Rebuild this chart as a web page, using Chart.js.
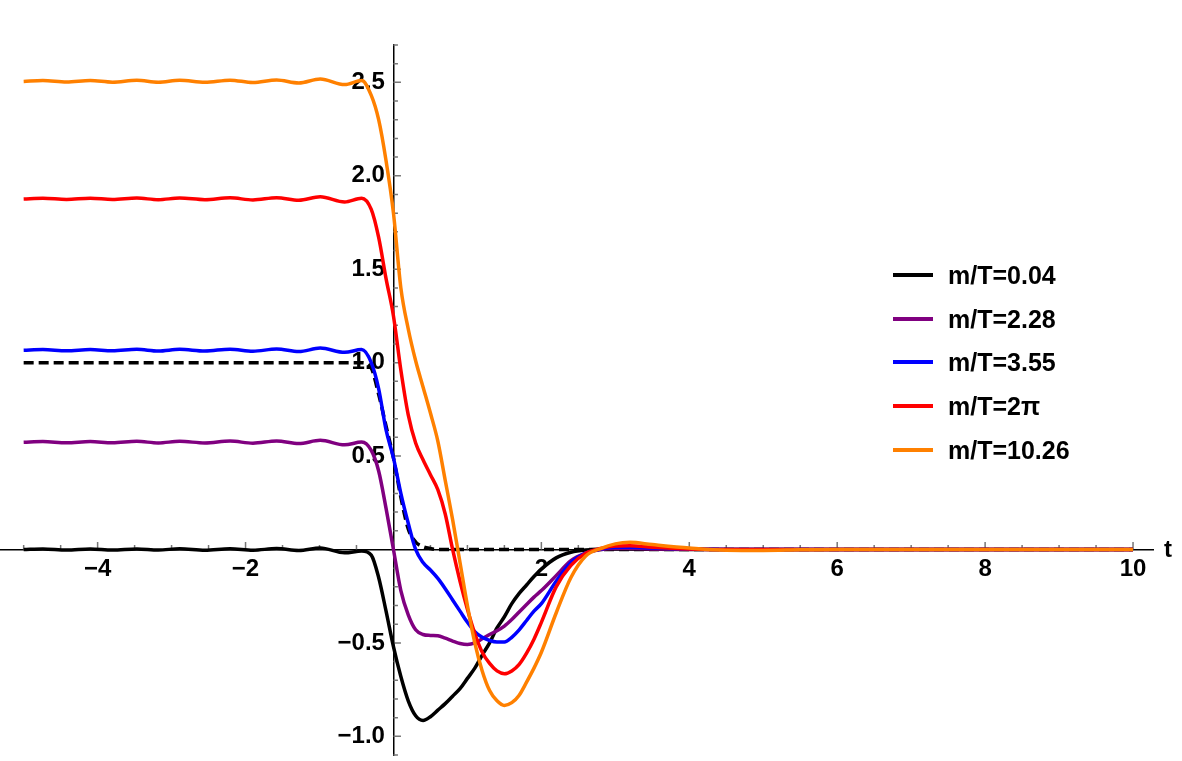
<!DOCTYPE html>
<html>
<head>
<meta charset="utf-8">
<script src="https://cdn.jsdelivr.net/npm/chart.js@4.4.1/dist/chart.umd.min.js"></script>
<style>
  body { margin: 0; background: #fff; }
  #wrap { position: relative; width: 1182px; height: 761px; overflow: hidden; }
  #plot { position: absolute; left: 0; top: 0; }
  .lab { position: absolute; font: bold 25px "Liberation Sans", Arial, sans-serif; color: #000; white-space: nowrap; }
  .row { position: absolute; left: 893px; height: 0; }
  .row .swatch { position: absolute; left: 0; top: -2px; width: 40px; height: 4px; }
  .row .txt { position: absolute; left: 55px; top: -14px; line-height: 28px; }
</style>
</head>
<body>
<div id="wrap">
  <canvas id="plot" width="1182" height="761"></canvas>
  <div class="lab" id="tLabel" style="left:1164px; top:535px; font-size:24px;">t</div>
  <div id="legend"></div>
</div>
<script>
// time samples (shared by all curves)
const T = [-5.0, -4.74, -4.42, -4.1, -3.8, -3.47, -3.18, -2.89, -2.55, -2.21, -1.9, -1.58, -1.28, -0.99, -0.66, -0.43,
  -0.3, -0.2, -0.1, 0, 0.1, 0.2, 0.3, 0.4, 0.5, 0.6, 0.7, 0.8, 0.9, 1.0, 1.1, 1.2, 1.3, 1.4, 1.5, 1.6, 1.7, 1.8, 1.9, 2.0,
  2.2, 2.4, 2.6, 2.8, 3.0, 3.2, 3.5, 4.0, 4.5, 5.0, 5.5, 6, 7, 8, 9, 10];

const labels = ["m/T=0.04", "m/T=2.28", "m/T=3.55", "m/T=2\u03C0", "m/T=10.26"];
const colors = ["#000000", "#800080", "#0000ff", "#ff0000", "#ff8000"];

const yBlack = [0.0, 0.003, -0.003, 0.003, -0.003, 0.003, -0.003, 0.004, -0.004, 0.004, -0.004, 0.005, -0.005, 0.008, -0.018, -0.008,
  -0.03, -0.15, -0.33, -0.52, -0.68, -0.81, -0.89, -0.915, -0.895, -0.86, -0.825, -0.785, -0.745, -0.69, -0.635, -0.565, -0.5, -0.42, -0.36, -0.29, -0.235, -0.19, -0.145, -0.105,
  -0.045, -0.015, -0.003, 0.0, 0.002, 0.002, 0.001, 0, 0, 0, 0, 0, 0, 0, 0, 0];
const yPurple = [0.574, 0.578, 0.571, 0.578, 0.571, 0.579, 0.570, 0.579, 0.570, 0.580, 0.569, 0.581, 0.567, 0.584, 0.560, 0.575,
  0.53, 0.42, 0.22, 0.0, -0.22, -0.35, -0.43, -0.455, -0.46, -0.462, -0.475, -0.49, -0.503, -0.508, -0.50, -0.478, -0.455, -0.435, -0.41, -0.375, -0.335, -0.295, -0.255, -0.22,
  -0.14, -0.06, -0.02, 0.0, 0.005, 0.005, 0.003, 0.001, 0, 0, 0, 0, 0, 0, 0, 0];
const yBlue = [1.066, 1.070, 1.063, 1.070, 1.063, 1.071, 1.062, 1.071, 1.062, 1.072, 1.061, 1.073, 1.059, 1.078, 1.055, 1.070,
  1.00, 0.86, 0.64, 0.49, 0.30, 0.14, 0.00, -0.07, -0.11, -0.155, -0.21, -0.27, -0.33, -0.39, -0.44, -0.47, -0.487, -0.495, -0.495, -0.47, -0.43, -0.38, -0.33, -0.29,
  -0.17, -0.07, -0.02, 0.003, 0.012, 0.012, 0.008, 0.002, 0, 0, 0, 0, 0, 0, 0, 0];
const yRed = [1.876, 1.880, 1.873, 1.880, 1.873, 1.881, 1.872, 1.881, 1.872, 1.882, 1.871, 1.883, 1.869, 1.888, 1.860, 1.880,
  1.82, 1.67, 1.45, 1.25, 0.96, 0.72, 0.57, 0.48, 0.40, 0.32, 0.19, 0.0, -0.17, -0.32, -0.45, -0.55, -0.61, -0.65, -0.665, -0.65, -0.615, -0.555, -0.48, -0.39,
  -0.20, -0.085, -0.02, 0.005, 0.018, 0.02, 0.012, 0.003, 0, 0, 0, 0, 0, 0, 0, 0];
const yOrange = [2.505, 2.510, 2.502, 2.510, 2.501, 2.511, 2.501, 2.511, 2.500, 2.512, 2.499, 2.513, 2.497, 2.518, 2.488, 2.510,
  2.43, 2.30, 2.08, 1.80, 1.40, 1.18, 1.01, 0.87, 0.73, 0.58, 0.37, 0.16, -0.07, -0.30, -0.50, -0.65, -0.755, -0.81, -0.835, -0.82, -0.78, -0.71, -0.635, -0.55,
  -0.34, -0.15, -0.035, 0.005, 0.03, 0.038, 0.026, 0.008, -0.004, -0.005, -0.002, 0, 0, 0, 0, 0];
// dashed reference step (no legend entry)
const yStep = [1, 1, 1, 1, 1, 1, 1, 1, 1, 1, 1, 1, 1, 1, 1, 1,
  0.97, 0.83, 0.66, 0.49, 0.28, 0.11, 0.04, 0.015, 0.005, 0, 0, 0, 0, 0, 0, 0, 0, 0, 0, 0, 0, 0, 0, 0,
  0, 0, 0, 0, 0, 0, 0, 0, 0, 0, 0, 0, 0, 0, 0, 0];

const xTickLabels = [-4, -2, 2, 4, 6, 8, 10];
const yTickLabels = [-1.0, -0.5, 0.5, 1.0, 1.5, 2.0, 2.5];

const series = [yBlack, yPurple, yBlue, yRed, yOrange];
const pts = ys => T.map((t, i) => ({ x: t, y: ys[i] }));

const datasets = series.map((ys, i) => ({
  label: labels[i],
  data: pts(ys),
  borderColor: colors[i],
  borderWidth: 3.5,
  order: 6 - i
}));
datasets.push({
  label: "step",
  data: pts(yStep),
  borderColor: "#000000",
  borderWidth: 3.5,
  borderDash: [10, 5],
  order: 10
});

const isLabel = (v, list) => list.some(l => Math.abs(l - v) < 1e-6);
const minus = s => s.replace("-", "\u2212");
const noPad = s => { s.paddingTop = 0; s.paddingBottom = 0; s.paddingLeft = 0; s.paddingRight = 0; };

// small tick marks drawn on the inside of the axes, like the original
const tickMarks = {
  id: "tickMarks",
  beforeDatasetsDraw(chart) {
    const { ctx, scales: { x, y } } = chart;
    const x0 = x.getPixelForValue(0);
    const y0 = y.getPixelForValue(0);
    ctx.save();
    ctx.strokeStyle = "#777";
    ctx.lineWidth = 1.5;
    ctx.beginPath();
    x.ticks.forEach(t => {
      if (Math.abs(t.value) < 1e-6) return;
      const px = x.getPixelForValue(t.value);
      const len = isLabel(t.value, xTickLabels) ? 7.5 : 4.5;
      ctx.moveTo(px, y0);
      ctx.lineTo(px, y0 - len);
    });
    y.ticks.forEach(t => {
      if (Math.abs(t.value) < 1e-6) return;
      const py = y.getPixelForValue(t.value);
      const len = isLabel(t.value, yTickLabels) ? 7.5 : 4.5;
      ctx.moveTo(x0, py);
      ctx.lineTo(x0 + len, py);
    });
    ctx.stroke();
    ctx.restore();
  }
};

const tickFont = { family: "'Liberation Sans', Arial, sans-serif", size: 24, weight: "bold" };

new Chart(document.getElementById("plot"), {
  type: "scatter",
  data: { datasets },
  plugins: [tickMarks],
  options: {
    responsive: false,
    animation: false,
    showLine: true,
    layout: { padding: { left: 0, right: 29, top: 45, bottom: 6 } },
    elements: {
      point: { radius: 0 },
      line: { cubicInterpolationMode: "monotone", borderCapStyle: "butt" }
    },
    plugins: { legend: { display: false }, tooltip: { enabled: false } },
    scales: {
      x: {
        type: "linear",
        position: { y: 0 },
        min: -5.32,
        max: 10.27,
        afterFit: noPad,
        grid: { display: false, drawTicks: false },
        border: { display: true, color: "#000", width: 1.5 },
        ticks: {
          stepSize: 0.5,
          autoSkip: false,
          includeBounds: false,
          maxRotation: 0,
          padding: 6,
          color: "#000",
          font: tickFont,
          callback: v => isLabel(v, xTickLabels) ? minus(String(v)) : ""
        }
      },
      // tick labels of the vertical axis, set a little left of t=0
      y: {
        type: "linear",
        position: { x: -0.115 },
        min: -1.1,
        max: 2.7,
        afterFit: noPad,
        grid: { display: false, drawTicks: false },
        border: { display: false },
        ticks: {
          stepSize: 0.1,
          autoSkip: false,
          includeBounds: false,
          color: "#000",
          font: tickFont,
          callback: v => isLabel(v, yTickLabels) ? minus(v.toFixed(1)) : ""
        }
      },
      // the vertical axis line itself at t=0
      yAxisLine: {
        type: "linear",
        axis: "y",
        position: { x: 0 },
        min: -1.1,
        max: 2.7,
        afterFit: noPad,
        grid: { display: false, drawTicks: false },
        border: { display: true, color: "#000", width: 1.5 },
        ticks: { display: false }
      }
    }
  }
});

// legend, placed inside the plot on the right
const legend = document.getElementById("legend");
labels.forEach((name, i) => {
  const row = document.createElement("div");
  row.className = "row";
  row.style.top = (275 + i * 43.7) + "px";
  row.innerHTML = `<span class="swatch" style="background:${colors[i]}"></span><span class="lab txt">${name}</span>`;
  legend.appendChild(row);
});
</script>
</body>
</html>
